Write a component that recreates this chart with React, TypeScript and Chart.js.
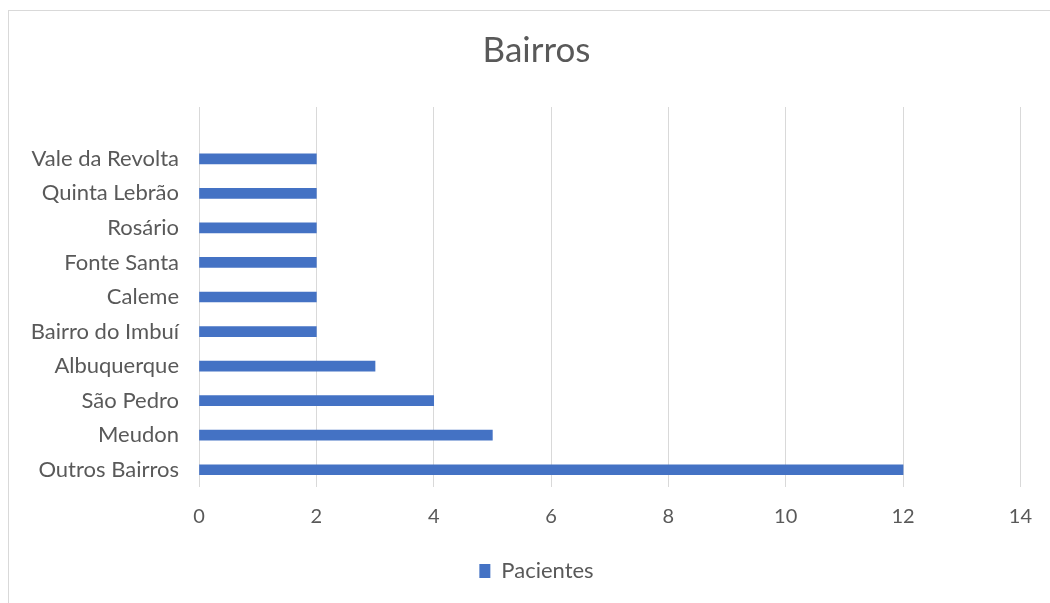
import React, { useEffect, useRef } from "react";
import { Chart, registerables } from "chart.js";

Chart.register(...registerables);

const chartTitle = "Bairros";
const seriesName = "Pacientes";
const categories = [
  "Vale da Revolta",
  "Quinta Lebrão",
  "Rosário",
  "Fonte Santa",
  "Caleme",
  "Bairro do Imbuí",
  "Albuquerque",
  "São Pedro",
  "Meudon",
  "Outros Bairros",
];
const values = [2, 2, 2, 2, 2, 2, 3, 4, 5, 12];
const xMin = 0;
const xMax = 14;
const xStep = 2;

const FONT = "Lato, 'Open Sans', sans-serif";
const TEXT = "#595959";
const GRID = "#d9d9d9";
const BAR = "#4472C4";

// let the long category labels use the space left of the (narrowed) y-axis box
const widenLabelArea = {
  id: "widenLabelArea",
  afterLayout(chart: any) {
    if (chart.scales.y) chart.scales.y.left = 0;
  },
};

export default function App() {
  const ref = useRef<HTMLCanvasElement | null>(null);

  useEffect(() => {
    if (!ref.current) return;
    // Excel leaves one empty category slot above the first bar
    const labels = ["", ...categories];
    const data = [null, ...values];
    const chart = new Chart(ref.current, {
      type: "bar",
      data: {
        labels,
        datasets: [
          {
            label: seriesName,
            data,
            backgroundColor: BAR,
            borderWidth: 0,
            barThickness: 10,
          },
        ],
      },
      plugins: [widenLabelArea],
      options: {
        indexAxis: "y",
        responsive: false,
        animation: false,
        layout: { padding: { left: 52, right: 29, top: 0, bottom: 11 } },
        plugins: {
          tooltip: { enabled: false },
          title: {
            display: true,
            text: chartTitle,
            color: TEXT,
            font: { family: FONT, size: 35, weight: "normal", lineHeight: 1.2 },
            padding: { top: 30, bottom: 35 },
          },
          legend: {
            display: true,
            position: "bottom",
            labels: {
              color: TEXT,
              font: { family: FONT, size: 22 },
              boxWidth: 11,
              boxHeight: 14,
              padding: 10,
            },
          },
        },
        scales: {
          x: {
            type: "linear",
            min: xMin,
            max: xMax,
            ticks: {
              stepSize: xStep,
              color: TEXT,
              font: { family: FONT, size: 20 },
              padding: 18,
            },
            grid: { color: GRID, lineWidth: 1, drawTicks: false },
            border: { display: false },
            afterFit: (scale: any) => {
              scale.height = 63;
            },
          },
          y: {
            type: "category",
            ticks: {
              color: TEXT,
              font: { family: FONT, size: 22 },
              padding: 20,
              autoSkip: false,
            },
            grid: { display: false, drawTicks: false },
            border: { display: false },
            afterFit: (scale: any) => {
              scale.width = 147;
            },
          },
        },
      },
    });
    return () => chart.destroy();
  }, []);

  return (
    <div
      style={{
        position: "absolute",
        left: 0,
        top: 0,
        width: 1050,
        height: 603,
        overflow: "hidden",
        background: "#ffffff",
      }}
    >
      <canvas
        ref={ref}
        width={1050}
        height={603}
        style={{ position: "absolute", left: 0, top: 0, width: 1050, height: 603 }}
      />
      <div
        style={{
          position: "absolute",
          left: 8,
          top: 10,
          width: 1100,
          height: 700,
          border: "1px solid #d9d9d9",
          pointerEvents: "none",
        }}
      />
    </div>
  );
}
